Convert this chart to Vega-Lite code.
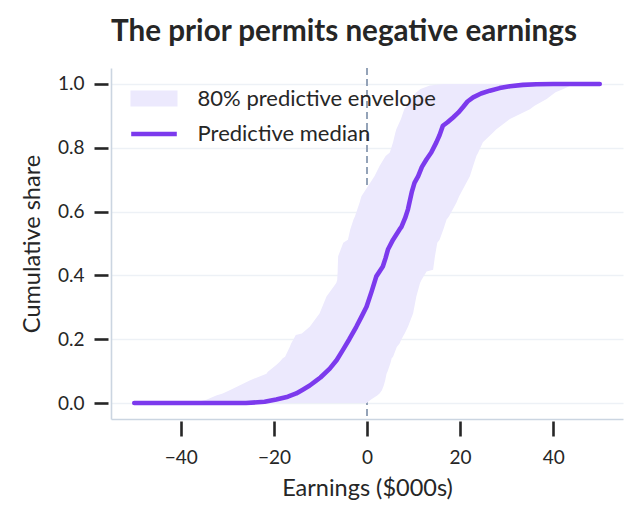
{
  "$schema": "https://vega.github.io/schema/vega-lite/v6.json",
  "autosize": {"type": "none"},
  "width": 512,
  "height": 351,
  "padding": {"left": 111, "top": 68, "right": 20, "bottom": 104},
  "title": {
    "text": "The prior permits negative earnings",
    "font": "Lato",
    "fontSize": 29.6,
    "fontWeight": "bold",
    "color": "#262626",
    "anchor": "middle",
    "frame": "group",
    "dx": -23,
    "offset": 19
  },
  "config": {
    "view": {"stroke": null},
    "font": "Lato",
    "axis": {
      "labelFont": "Lato",
      "labelFontSize": 19,
      "labelColor": "#262626",
      "titleFont": "Lato",
      "titleFontSize": 23.5,
      "titleFontWeight": "normal",
      "titleColor": "#262626"
    },
    "legend": {
      "labelFont": "Lato",
      "labelFontSize": 22,
      "labelColor": "#262626",
      "labelLimit": 400
    }
  },
  "datasets": {
    "median": [
      {"x": -50, "y": 0, "series": "Predictive median"},
      {"x": -26, "y": 0, "series": "Predictive median"},
      {"x": -22, "y": 0.004, "series": "Predictive median"},
      {"x": -19.5, "y": 0.011, "series": "Predictive median"},
      {"x": -17, "y": 0.02, "series": "Predictive median"},
      {"x": -15.2, "y": 0.03, "series": "Predictive median"},
      {"x": -13.8, "y": 0.042, "series": "Predictive median"},
      {"x": -12.3, "y": 0.055, "series": "Predictive median"},
      {"x": -10.9, "y": 0.07, "series": "Predictive median"},
      {"x": -10, "y": 0.08, "series": "Predictive median"},
      {"x": -8, "y": 0.108, "series": "Predictive median"},
      {"x": -6.5, "y": 0.135, "series": "Predictive median"},
      {"x": -5.2, "y": 0.166, "series": "Predictive median"},
      {"x": -3.8, "y": 0.2, "series": "Predictive median"},
      {"x": -2.3, "y": 0.239, "series": "Predictive median"},
      {"x": -1.2, "y": 0.27, "series": "Predictive median"},
      {"x": -0.1, "y": 0.302, "series": "Predictive median"},
      {"x": 1.0, "y": 0.35, "series": "Predictive median"},
      {"x": 2.0, "y": 0.397, "series": "Predictive median"},
      {"x": 3.4, "y": 0.428, "series": "Predictive median"},
      {"x": 4.0, "y": 0.455, "series": "Predictive median"},
      {"x": 4.5, "y": 0.481, "series": "Predictive median"},
      {"x": 5.6, "y": 0.512, "series": "Predictive median"},
      {"x": 7.0, "y": 0.544, "series": "Predictive median"},
      {"x": 7.4, "y": 0.552, "series": "Predictive median"},
      {"x": 8.2, "y": 0.58, "series": "Predictive median"},
      {"x": 8.8, "y": 0.607, "series": "Predictive median"},
      {"x": 9.6, "y": 0.66, "series": "Predictive median"},
      {"x": 10.2, "y": 0.69, "series": "Predictive median"},
      {"x": 11.0, "y": 0.711, "series": "Predictive median"},
      {"x": 11.8, "y": 0.74, "series": "Predictive median"},
      {"x": 12.8, "y": 0.764, "series": "Predictive median"},
      {"x": 13.8, "y": 0.785, "series": "Predictive median"},
      {"x": 14.9, "y": 0.817, "series": "Predictive median"},
      {"x": 15.6, "y": 0.84, "series": "Predictive median"},
      {"x": 16.3, "y": 0.869, "series": "Predictive median"},
      {"x": 17.3, "y": 0.88, "series": "Predictive median"},
      {"x": 18.5, "y": 0.895, "series": "Predictive median"},
      {"x": 19.6, "y": 0.91, "series": "Predictive median"},
      {"x": 20.6, "y": 0.927, "series": "Predictive median"},
      {"x": 21.6, "y": 0.945, "series": "Predictive median"},
      {"x": 22.8, "y": 0.958, "series": "Predictive median"},
      {"x": 24.5, "y": 0.97, "series": "Predictive median"},
      {"x": 26.4, "y": 0.979, "series": "Predictive median"},
      {"x": 28.5, "y": 0.987, "series": "Predictive median"},
      {"x": 30.7, "y": 0.993, "series": "Predictive median"},
      {"x": 33.5, "y": 0.997, "series": "Predictive median"},
      {"x": 36.4, "y": 0.999, "series": "Predictive median"},
      {"x": 40, "y": 1.0, "series": "Predictive median"},
      {"x": 50, "y": 1.0, "series": "Predictive median"}
    ],
    "band": [
      {"share": 0, "lo": -40, "hi": 0.0, "series": "80% predictive envelope"},
      {"share": 0.003, "lo": -36.7, "hi": 0.2, "series": "80% predictive envelope"},
      {"share": 0.01, "lo": -34.5, "hi": 0.8, "series": "80% predictive envelope"},
      {"share": 0.024, "lo": -32.4, "hi": 2.2, "series": "80% predictive envelope"},
      {"share": 0.03, "lo": -31, "hi": 2.7, "series": "80% predictive envelope"},
      {"share": 0.04, "lo": -29.5, "hi": 3.2, "series": "80% predictive envelope"},
      {"share": 0.055, "lo": -27.4, "hi": 3.6, "series": "80% predictive envelope"},
      {"share": 0.071, "lo": -25.2, "hi": 3.9, "series": "80% predictive envelope"},
      {"share": 0.092, "lo": -21.6, "hi": 4.2, "series": "80% predictive envelope"},
      {"share": 0.098, "lo": -21.3, "hi": 4.4, "series": "80% predictive envelope"},
      {"share": 0.119, "lo": -19.5, "hi": 4.9, "series": "80% predictive envelope"},
      {"share": 0.129, "lo": -18.8, "hi": 5.1, "series": "80% predictive envelope"},
      {"share": 0.14, "lo": -18.1, "hi": 5.3, "series": "80% predictive envelope"},
      {"share": 0.145, "lo": -17.6, "hi": 5.6, "series": "80% predictive envelope"},
      {"share": 0.176, "lo": -16.6, "hi": 6.4, "series": "80% predictive envelope"},
      {"share": 0.187, "lo": -16.3, "hi": 7.0, "series": "80% predictive envelope"},
      {"share": 0.197, "lo": -15.9, "hi": 7.3, "series": "80% predictive envelope"},
      {"share": 0.213, "lo": -15.3, "hi": 7.9, "series": "80% predictive envelope"},
      {"share": 0.218, "lo": -14, "hi": 8.1, "series": "80% predictive envelope"},
      {"share": 0.239, "lo": -12.3, "hi": 8.8, "series": "80% predictive envelope"},
      {"share": 0.281, "lo": -10.2, "hi": 9.9, "series": "80% predictive envelope"},
      {"share": 0.334, "lo": -8.7, "hi": 10.6, "series": "80% predictive envelope"},
      {"share": 0.376, "lo": -6.6, "hi": 11.4, "series": "80% predictive envelope"},
      {"share": 0.386, "lo": -6.4, "hi": 11.7, "series": "80% predictive envelope"},
      {"share": 0.412, "lo": -6.3, "hi": 12.8, "series": "80% predictive envelope"},
      {"share": 0.418, "lo": -6.3, "hi": 14.2, "series": "80% predictive envelope"},
      {"share": 0.46, "lo": -6.2, "hi": 14.6, "series": "80% predictive envelope"},
      {"share": 0.502, "lo": -5.1, "hi": 15.1, "series": "80% predictive envelope"},
      {"share": 0.512, "lo": -4.1, "hi": 15.6, "series": "80% predictive envelope"},
      {"share": 0.544, "lo": -3.6, "hi": 16.4, "series": "80% predictive envelope"},
      {"share": 0.575, "lo": -2.9, "hi": 17.1, "series": "80% predictive envelope"},
      {"share": 0.585, "lo": -2.6, "hi": 17.6, "series": "80% predictive envelope"},
      {"share": 0.628, "lo": -1.6, "hi": 19.2, "series": "80% predictive envelope"},
      {"share": 0.648, "lo": -1.2, "hi": 19.8, "series": "80% predictive envelope"},
      {"share": 0.711, "lo": 1.6, "hi": 22.1, "series": "80% predictive envelope"},
      {"share": 0.743, "lo": 2.7, "hi": 22.8, "series": "80% predictive envelope"},
      {"share": 0.774, "lo": 4.0, "hi": 23.5, "series": "80% predictive envelope"},
      {"share": 0.785, "lo": 4.9, "hi": 23.9, "series": "80% predictive envelope"},
      {"share": 0.817, "lo": 5.6, "hi": 24.9, "series": "80% predictive envelope"},
      {"share": 0.848, "lo": 6.1, "hi": 27.1, "series": "80% predictive envelope"},
      {"share": 0.858, "lo": 6.3, "hi": 27.8, "series": "80% predictive envelope"},
      {"share": 0.89, "lo": 7.3, "hi": 30.7, "series": "80% predictive envelope"},
      {"share": 0.921, "lo": 8.0, "hi": 35.0, "series": "80% predictive envelope"},
      {"share": 0.932, "lo": 8.5, "hi": 36.0, "series": "80% predictive envelope"},
      {"share": 0.953, "lo": 9.4, "hi": 38.6, "series": "80% predictive envelope"},
      {"share": 0.974, "lo": 10.6, "hi": 40.5, "series": "80% predictive envelope"},
      {"share": 0.984, "lo": 11.5, "hi": 42.2, "series": "80% predictive envelope"},
      {"share": 0.995, "lo": 13.5, "hi": 43.8, "series": "80% predictive envelope"},
      {"share": 1.0, "lo": 16.4, "hi": 44.7, "series": "80% predictive envelope"}
    ]
  },
  "layer": [
    {
      "data": {"values": [{"x": 0}]},
      "mark": {"type": "rule", "color": "#94a3b8", "strokeDash": [7, 4], "strokeWidth": 2},
      "encoding": {
        "x": {
          "field": "x",
          "type": "quantitative",
          "scale": {"domain": [-55, 55], "nice": false, "zero": false},
          "axis": {
            "orient": "bottom",
            "domain": true,
            "domainColor": "#cbd5e1",
            "domainWidth": 1.6,
            "ticks": false,
            "labels": false,
            "grid": false,
            "title": null
          }
        }
      }
    },
    {
      "data": {"name": "band"},
      "mark": {"type": "area", "orient": "horizontal", "opacity": 1},
      "encoding": {
        "y": {
          "field": "share",
          "type": "quantitative",
          "scale": {"domain": [-0.05, 1.05], "nice": false, "zero": false},
          "axis": {
            "orient": "left",
            "domain": true,
            "domainColor": "#cbd5e1",
            "domainWidth": 1.6,
            "ticks": false,
            "labels": false,
            "grid": true,
            "gridColor": "#edf1f6",
            "gridWidth": 1.3,
            "values": [0, 0.2, 0.4, 0.6, 0.8, 1.0],
            "title": null
          }
        },
        "x": {"field": "lo", "type": "quantitative", "axis": null},
        "x2": {"field": "hi"},
        "fill": {
          "field": "series",
          "type": "nominal",
          "scale": {"domain": ["80% predictive envelope"], "range": ["#ece9fd"]},
          "legend": {
            "title": null,
            "orient": "none",
            "legendX": 32,
            "legendY": 19.5,
            "symbolSize": 256,
            "symbolType": "M-2.94,-1L2.94,-1L2.94,1L-2.94,1Z",
            "symbolOpacity": 1,
            "symbolStrokeWidth": 0,
            "labelOffset": 32.6
          }
        }
      }
    },
    {
      "data": {"name": "median"},
      "mark": {"type": "line", "strokeWidth": 4.6, "strokeCap": "round", "strokeJoin": "round"},
      "encoding": {
        "x": {
          "field": "x",
          "type": "quantitative",
          "axis": {
            "orient": "bottom",
            "offset": 2,
            "domain": false,
            "grid": false,
            "values": [-40, -20, 0, 20, 40],
            "tickSize": 15,
            "tickWidth": 2.6,
            "tickColor": "#262626",
            "labelPadding": 12.5,
            "title": "Earnings ($000s)",
            "titlePadding": 9
          }
        },
        "y": {
          "field": "y",
          "type": "quantitative",
          "axis": {
            "orient": "left",
            "offset": 3,
            "domain": false,
            "grid": false,
            "values": [0, 0.2, 0.4, 0.6, 0.8, 1.0],
            "format": ".1f",
            "tickSize": 14,
            "tickWidth": 2.6,
            "tickColor": "#262626",
            "labelPadding": 10,
            "title": "Cumulative share",
            "titlePadding": 13
          }
        },
        "stroke": {
          "field": "series",
          "type": "nominal",
          "scale": {"domain": ["Predictive median"], "range": ["#7c3aed"]},
          "legend": {
            "title": null,
            "orient": "none",
            "legendX": 32,
            "legendY": 55,
            "symbolSize": 256,
            "symbolType": "M-2.85,0L2.85,0",
            "symbolStrokeWidth": 4.6,
            "symbolOpacity": 1,
            "labelOffset": 32.6
          }
        }
      }
    }
  ],
  "resolve": {"axis": {"x": "independent", "y": "independent"}}
}
